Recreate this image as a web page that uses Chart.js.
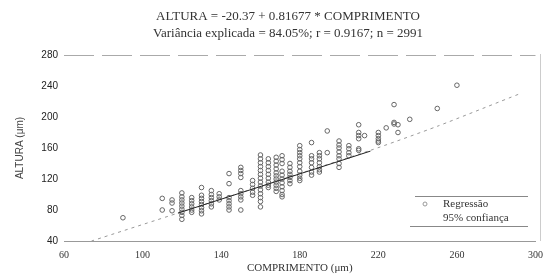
<!DOCTYPE html>
<html>
<head>
<meta charset="utf-8">
<script src="https://cdn.jsdelivr.net/npm/chart.js@4/dist/chart.umd.min.js"></script>
<style>
  body { margin: 0; background: #fff; }
  #c { display: block; }
</style>
</head>
<body>
<canvas id="c" width="543" height="276"></canvas>
<script>
// titles / tick labels
var titleLines = ['ALTURA = -20.37 + 0.81677 * COMPRIMENTO', 'Variância explicada = 84.05%; r = 0.9167; n = 2991'];
var xTicks = [60, 100, 140, 180, 220, 260, 300];
var yTicks = [40, 80, 120, 160, 200, 240, 280];
var legendLabels = ['Regressão', '95% confiança'];

// comprimento columns and the altura values seen in each column
var colX = [90, 110, 115, 120, 125, 130, 135, 139, 144, 150, 156, 160, 164, 168, 171, 175,
            180, 186, 190, 194, 200, 205, 210, 213, 220, 224, 228, 230, 236, 250, 260];
var colY = [
  [70],
  [95, 80],
  [93, 89, 79],
  [102, 97, 93, 89, 85, 81, 77, 73, 68],
  [96, 92, 88, 84, 80, 77],
  [109, 99, 95, 91, 87, 83, 79, 75],
  [105, 100, 96, 92, 88, 84],
  [101, 97, 93],
  [127, 114, 96, 92, 88, 84, 80],
  [135, 131, 127, 122, 105, 101, 97, 93, 80],
  [118, 113, 108, 103, 99],
  [151, 146, 141, 136, 131, 126, 121, 116, 111, 106, 101, 96, 91, 84],
  [146, 141, 136, 131, 126, 121, 116, 112, 109],
  [148, 143, 138, 133, 128, 124, 120, 116, 112, 108, 104],
  [150, 145, 140, 130, 125, 120, 115, 110, 105, 100, 97],
  [140, 135, 130, 126, 122, 118, 114],
  [163, 158, 154, 150, 146, 141, 136, 130, 125, 121, 118],
  [167, 150, 146, 141, 135, 129, 125],
  [154, 150, 146, 141, 136, 132, 129],
  [182, 154],
  [169, 164, 160, 155, 150, 146, 140, 135],
  [163, 159, 154, 150],
  [190, 180, 176, 172, 159, 157],
  [176],
  [180, 176, 172, 169, 167],
  [186],
  [216, 193, 191],
  [190, 180],
  [197],
  [211],
  [241]
];

// fitted line (solid part in the middle)
var regX = [118, 216];
var regY = [76, 156];
// dashed band line
var bandX = [74, 118, 216, 250, 292];
var bandY = [40, 76, 157, 188, 230];

function pairs(xs, ys) {
  var out = [];
  for (var i = 0; i < xs.length; i++) out.push({x: xs[i], y: ys[i]});
  return out;
}
var points = [];
for (var i = 0; i < colX.length; i++) {
  for (var j = 0; j < colY[i].length; j++) points.push({x: colX[i], y: colY[i][j]});
}

// two title lines (sit a bit right of the canvas centre in the original)
var topTitle = {
  id: 'topTitle',
  afterDraw: function(chart) {
    var ctx = chart.ctx;
    ctx.save();
    ctx.fillStyle = '#333';
    ctx.font = '13px "Liberation Serif"';
    ctx.textAlign = 'center';
    ctx.textBaseline = 'middle';
    ctx.fillText(titleLines[0], 288, 17);
    ctx.fillText(titleLines[1], 288, 34);
    ctx.restore();
  }
};

// legend drawn inside the plot, lower right, with a rule above and below
var boxLegend = {
  id: 'boxLegend',
  afterDraw: function(chart) {
    var ctx = chart.ctx;
    ctx.save();
    ctx.strokeStyle = '#888';
    ctx.lineWidth = 1;
    ctx.beginPath();
    ctx.moveTo(415, 196.5); ctx.lineTo(528, 196.5);
    ctx.moveTo(410, 226.5); ctx.lineTo(528, 226.5);
    ctx.stroke();
    ctx.strokeStyle = '#999';
    ctx.beginPath();
    ctx.arc(425, 204, 2, 0, Math.PI * 2);
    ctx.stroke();
    ctx.fillStyle = '#333';
    ctx.font = '11px "Liberation Serif"';
    ctx.textBaseline = 'middle';
    ctx.fillText(legendLabels[0], 443, 204);
    ctx.fillText(legendLabels[1], 443, 218);
    // faint frame edge on the right
    ctx.strokeStyle = '#ccc';
    ctx.beginPath();
    ctx.moveTo(540.5, 54); ctx.lineTo(540.5, 241);
    ctx.stroke();
    ctx.restore();
  }
};

new Chart(document.getElementById('c').getContext('2d'), {
  type: 'scatter',
  data: {
    datasets: [{
      label: legendLabels[0],
      data: points,
      pointStyle: 'circle',
      pointRadius: 2.3,
      borderWidth: 1,
      borderColor: '#666',
      backgroundColor: 'rgba(255,255,255,0)',
      order: 2
    }, {
      label: 'reg',
      type: 'line',
      data: pairs(regX, regY),
      borderColor: '#222',
      borderWidth: 1,
      pointRadius: 0,
      fill: false,
      order: 1
    }, {
      label: legendLabels[1],
      type: 'line',
      data: pairs(bandX, bandY),
      borderColor: '#999',
      borderWidth: 1,
      borderDash: [3, 4],
      pointRadius: 0,
      tension: 0.2,
      fill: false,
      order: 1
    }]
  },
  options: {
    responsive: false,
    animation: false,
    layout: { padding: { left: 0, right: 5, top: 55, bottom: 0 } },
    plugins: {
      legend: { display: false },
      tooltip: { enabled: false },
      title: { display: false }
    },
    scales: {
      x: {
        type: 'linear',
        min: 60, max: 300,
        afterBuildTicks: function(s) { s.ticks = xTicks.map(function(v) { return {value: v}; }); },
        afterFit: function(s) { s.height = 35; },
        grid: { display: false },
        border: { display: true, color: '#999', width: 1 },
        ticks: { color: '#333', font: { family: '"Liberation Serif"', size: 10 }, padding: 0, maxRotation: 0 },
        title: { display: true, text: 'COMPRIMENTO (μm)', color: '#333',
                 font: { family: '"Liberation Serif"', size: 11 }, padding: { top: 1, bottom: 1 } }
      },
      y: {
        type: 'linear',
        min: 40, max: 280,
        afterBuildTicks: function(s) { s.ticks = yTicks.map(function(v) { return {value: v}; }); },
        afterFit: function(s) { s.width = 64; },
        grid: {
          drawTicks: false,
          color: function(c) { return c.tick && c.tick.value === 280 ? '#aaa' : 'rgba(0,0,0,0)'; }
        },
        border: { display: false, dash: [30, 8] },
        ticks: { color: '#222', font: { family: '"Liberation Sans"', size: 10 }, padding: 6 },
        title: { display: true, text: 'ALTURA (μm)', color: '#444',
                 font: { family: '"Liberation Sans"', size: 10 }, padding: { top: 14, bottom: 8 } }
      }
    }
  },
  plugins: [topTitle, boxLegend]
});
</script>
</body>
</html>
